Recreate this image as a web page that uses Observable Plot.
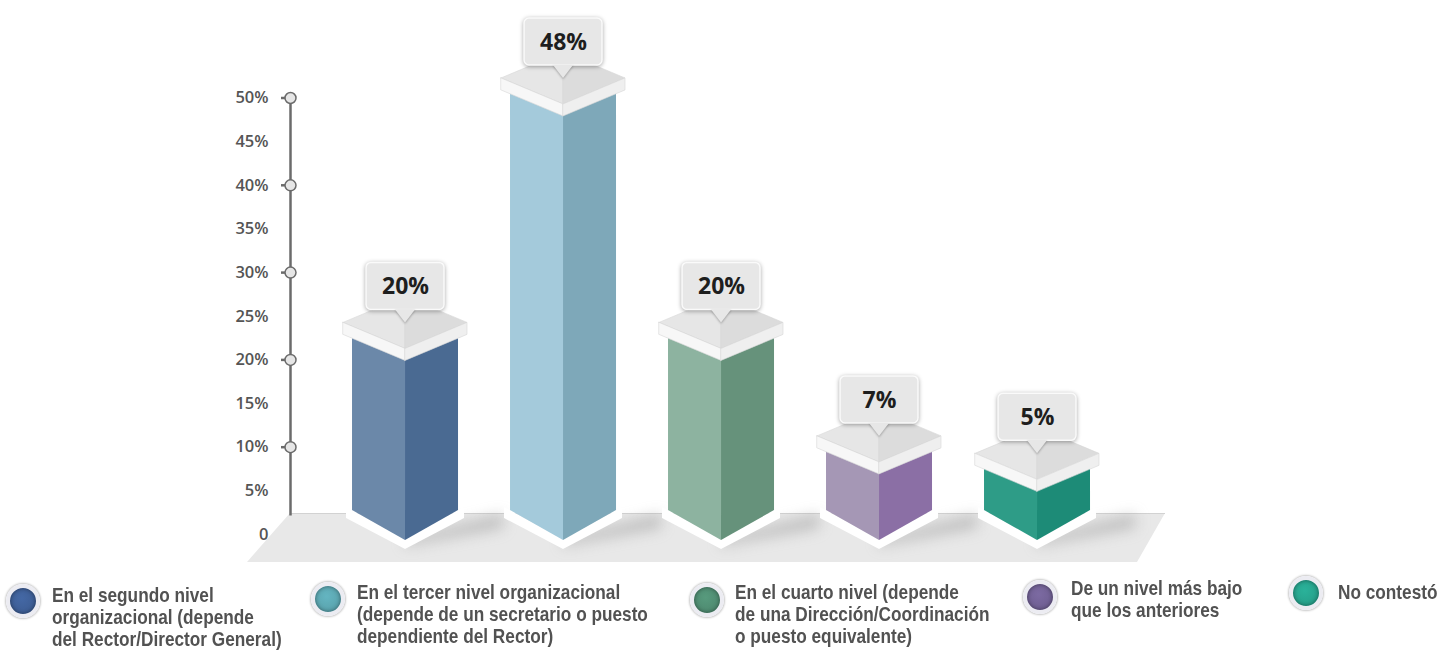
<!DOCTYPE html>
<html><head><meta charset="utf-8">
<script src="https://cdn.jsdelivr.net/npm/d3@7"></script>
<script src="https://cdn.jsdelivr.net/npm/@observablehq/plot@0.6"></script>
<style>
html,body{margin:0;padding:0;background:#fff;width:1454px;height:659px;overflow:hidden}
#chart svg{display:block}
#legend{position:relative;width:1454px;height:89px}
.dot{position:absolute;width:26px;height:26px;border-radius:50%;border:4px solid #ececf2;box-shadow:0 0 2px 1px rgba(0,0,0,.22), inset 0 0 4px rgba(0,0,0,.45)}
.lbl{position:absolute;white-space:pre;font-weight:bold;font-size:21px;line-height:22px;color:#525252;transform-origin:0 0}
</style></head>
<body><div id="chart"></div><div id="legend"></div>
<script>
// ---- data ----
const categories = [
  "En el segundo nivel\norganizacional (depende\ndel Rector/Director General)",
  "En el tercer nivel organizacional\n(depende de un secretario o puesto\ndependiente del Rector)",
  "En el cuarto nivel (depende\nde una Dirección/Coordinación\no puesto equivalente)",
  "De un nivel más bajo\nque los anteriores",
  "No contestó"
];
const values = [20, 48, 20, 7, 5];
const valueLabels = ["20%", "48%", "20%", "7%", "5%"];
const leftColors = ["#6b88a9", "#a4cadb", "#8db3a0", "#a597b5", "#2e9c87"];
const rightColors = ["#4a6a92", "#7ea8b9", "#66927b", "#8b6fa5", "#1d8b77"];
const legendColors = ["#3d5d94", "#5aa3ad", "#4e8a70", "#6f5f92", "#26a08a"];
const yTicks = [0, 5, 10, 15, 20, 25, 30, 35, 40, 45, 50];
const yMajor = [10, 20, 30, 40, 50];

// ---- layout ----
const W = 1454, H = 570, ML = 290, MR = 289, MT = 97.5, MB = 36;
const X0 = -0.728, X1 = 4.81;
const kx = (X1 - X0) / (W - ML - MR);   // x units per px
const ky = 50 / (H - MT - MB);          // y units per px
const hw = 53 * kx, pw = 62 * kx;
const floorTop = 21 * ky, floorBottom = -28 * ky;

const bars = values.map((v, i) => ({i, v, cat: categories[i], label: valueLabels[i]}));

const faces = bars.flatMap(b => [
  {k: "L" + b.i, x: b.i - hw, y1: 24 * ky, y2: b.v + 26 * ky, c: leftColors[b.i]},
  {k: "L" + b.i, x: b.i, y1: -6 * ky, y2: b.v, c: leftColors[b.i]},
  {k: "R" + b.i, x: b.i, y1: -6 * ky, y2: b.v, c: rightColors[b.i]},
  {k: "R" + b.i, x: b.i + hw, y1: 24 * ky, y2: b.v + 26 * ky, c: rightColors[b.i]}
]);
const bands = bars.flatMap(b => [
  {k: "WL" + b.i, x: b.i - hw - 6 * kx, y1: 16 * ky, y2: 27 * ky},
  {k: "WL" + b.i, x: b.i, y1: -15 * ky, y2: -5 * ky},
  {k: "WR" + b.i, x: b.i, y1: -15 * ky, y2: -5 * ky},
  {k: "WR" + b.i, x: b.i + hw + 6 * kx, y1: 16 * ky, y2: 27 * ky}
]);
const shadows = bars.flatMap(b => [
  {k: "S" + b.i, x: b.i, y1: -12 * ky, y2: -4 * ky},
  {k: "S" + b.i, x: b.i + hw + 45 * kx, y1: 6 * ky, y2: 20 * ky}
]);
const plates = bars.flatMap(b => [
  {k: "TL" + b.i, x: b.i - pw, y1: b.v + 37 * ky, y2: b.v + 37 * ky, c: "#e6e6e6"},
  {k: "TL" + b.i, x: b.i, y1: b.v + 11 * ky, y2: b.v + 63 * ky, c: "#e6e6e6"},
  {k: "TR" + b.i, x: b.i, y1: b.v + 11 * ky, y2: b.v + 63 * ky, c: "#dcdcdc"},
  {k: "TR" + b.i, x: b.i + pw, y1: b.v + 37 * ky, y2: b.v + 37 * ky, c: "#dcdcdc"},
  {k: "PL" + b.i, x: b.i - pw, y1: b.v + 25 * ky, y2: b.v + 37 * ky, c: "#f7f7f7"},
  {k: "PL" + b.i, x: b.i, y1: b.v - 1 * ky, y2: b.v + 11 * ky, c: "#f7f7f7"},
  {k: "PR" + b.i, x: b.i, y1: b.v - 1 * ky, y2: b.v + 11 * ky, c: "#efefef"},
  {k: "PR" + b.i, x: b.i + pw, y1: b.v + 25 * ky, y2: b.v + 37 * ky, c: "#efefef"}
]);
const pointers = bars.flatMap(b => [
  {k: "P" + b.i, x: b.i - 10 * kx, y1: b.v + 50 * ky, y2: b.v + 50 * ky},
  {k: "P" + b.i, x: b.i, y1: b.v + 37 * ky, y2: b.v + 50 * ky},
  {k: "P" + b.i, x: b.i + 10 * kx, y1: b.v + 50 * ky, y2: b.v + 50 * ky}
]);
const floor = [
  {y: floorTop, x1: X0, x2: X1},
  {y: floorBottom, x1: X0 - 43 * kx, x2: X1 - 28 * kx}
];

const chart = Plot.plot({
  width: W, height: H,
  marginLeft: ML, marginRight: MR, marginTop: MT, marginBottom: MB,
  x: {domain: [X0, X1], axis: null},
  y: {domain: [0, 50], axis: null},
  color: {type: "identity"},
  style: {background: "transparent", overflow: "visible"},
  marks: [
    Plot.areaX(floor, {y: "y", x1: "x1", x2: "x2", fill: "#e8e8e8"}),
    Plot.ruleY([floorTop], {x1: X0, x2: X1, stroke: "#d2d2d2", strokeWidth: 1}),
    Plot.areaY(shadows, {x: "x", y1: "y1", y2: "y2", z: "k", fill: "#8d8d8d", fillOpacity: 0.45, imageFilter: "blur(7px)"}),
    Plot.ruleX([X0], {y1: floorTop - 0.3, y2: 50, stroke: "#6b6b6b", strokeWidth: 2.5}),
    Plot.ruleY(yMajor, {x1: X0 - 9 * kx, x2: X0, stroke: "#6b6b6b", strokeWidth: 2.5}),
    Plot.dot(yMajor, {x: () => X0, y: d => d, r: 5.5, fill: "#e6e6e6", stroke: "#6b6b6b", strokeWidth: 1.5}),
    Plot.axisY(yTicks, {anchor: "left", tickSize: 0, tickPadding: 22, tickFormat: d => d === 0 ? "0" : d + "%",
      fontSize: 16.5, fontWeight: 600, color: "#555", fontFamily: "'Open Sans', sans-serif"}),
    Plot.areaY(bands, {x: "x", y1: "y1", y2: "y2", z: "k", fill: "#ffffff"}),
    Plot.areaY(faces, {x: "x", y1: "y1", y2: "y2", z: "k", fill: "c"}),
    Plot.areaY(plates, {x: "x", y1: "y1", y2: "y2", z: "k", fill: "c", stroke: "#d6d6d6", strokeWidth: 0.6}),
    Plot.rect(bars, {x1: d => d.i - 39 * kx, x2: d => d.i + 39 * kx, y1: d => d.v + 50 * ky, y2: d => d.v + 97 * ky,
      rx: 5, fill: "#e7e7e7", stroke: "#fafafa", strokeWidth: 1.5,
      imageFilter: "drop-shadow(0px 1px 2px rgba(0,0,0,0.35))"}),
    Plot.areaY(pointers, {x: "x", y1: "y1", y2: "y2", z: "k", fill: "#e7e7e7",
      imageFilter: "drop-shadow(0px 1px 1px rgba(0,0,0,0.3))"}),
    Plot.text(bars, {x: "i", y: d => d.v + 73 * ky, text: "label", fontSize: 23, fontWeight: 700,
      fill: "#1e1e1e", fontFamily: "'Open Sans', sans-serif"})
  ]
});
document.getElementById("chart").append(chart);

// ---- legend ----
function hasFont(f) {
  const c = document.createElement("canvas").getContext("2d");
  const s = "del Rector/Director General)";
  c.font = "bold 21px monospace"; const a = c.measureText(s).width;
  c.font = `bold 21px '${f}', monospace`; return c.measureText(s).width !== a;
}
const narrow = hasFont("Liberation Sans Narrow");
const legendPos = [
  {dx: 6, dy: 14, tx: 52, ty: 14},
  {dx: 311, dy: 12, tx: 357, ty: 11},
  {dx: 690, dy: 13, tx: 735, ty: 11},
  {dx: 1023, dy: 10, tx: 1071, ty: 7},
  {dx: 1289, dy: 6, tx: 1338, ty: 11}
];
const legend = document.getElementById("legend");
categories.forEach((c, i) => {
  const p = legendPos[i];
  const d = document.createElement("div");
  d.className = "dot";
  d.style.left = p.dx + "px"; d.style.top = p.dy + "px";
  d.style.background = `radial-gradient(circle at 45% 40%, ${d3.color(legendColors[i]).brighter(0.3)}, ${legendColors[i]} 70%)`;
  legend.append(d);
  const t = document.createElement("div");
  t.className = "lbl";
  t.textContent = c;
  t.style.left = p.tx + "px"; t.style.top = p.ty + "px";
  if (narrow) t.style.fontFamily = "'Liberation Sans Narrow', sans-serif";
  else { t.style.fontFamily = "'Liberation Sans', Arial, sans-serif"; t.style.transform = "scaleX(0.82)"; }
  legend.append(t);
});
</script>
</body></html>
